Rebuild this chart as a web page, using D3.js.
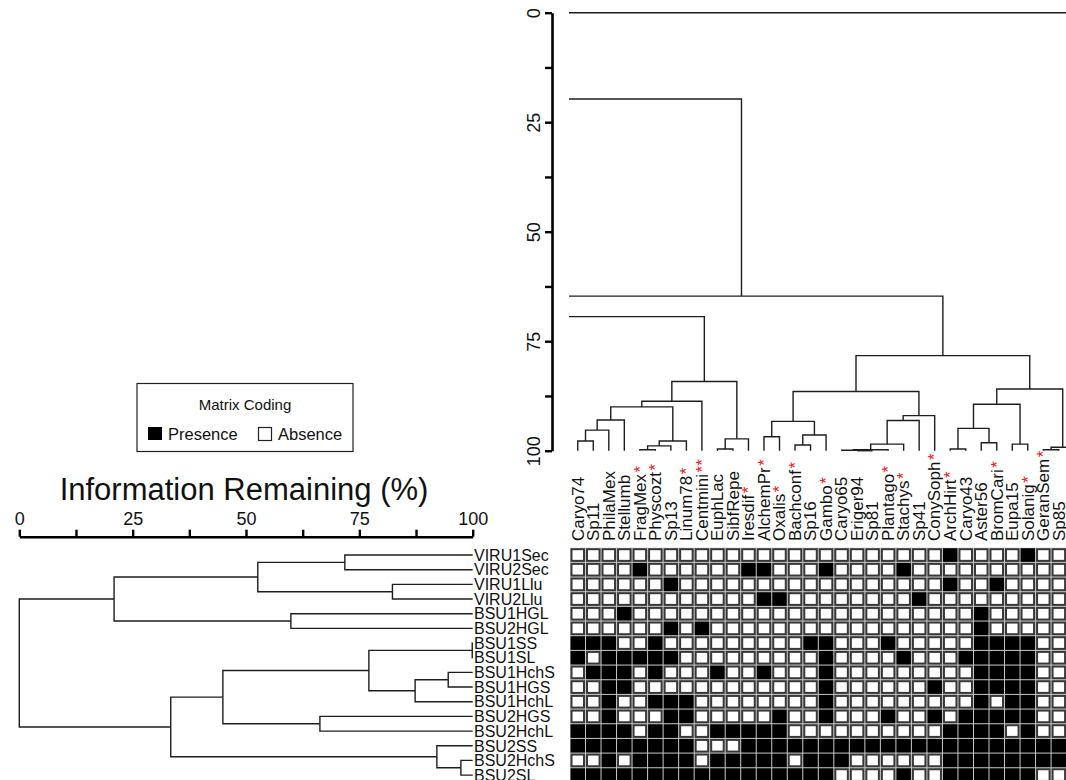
<!DOCTYPE html>
<html><head><meta charset="utf-8">
<script src="https://cdn.jsdelivr.net/npm/d3@7"></script>
<style>
body{margin:0;background:#fff}
svg{display:block}
text{font-family:"Liberation Sans",Arial,Helvetica,sans-serif;fill:#111}
</style>
</head><body>
<svg id="chart" width="1066" height="780"></svg>
<script>
// ---------------- DATA ----------------
const colLabels = ["Caryo74","Sp11","PhilaMex","Stellumb","FragMex","Physcozt","Sp13","Linum78","Centmini","EuphLac","SibfRepe","Iresdif","AlchemPr","Oxalis","Bachconf","Sp16","Gambo","Caryo65","Eriger94","Sp81","Plantago","Stachys","Sp41","ConySoph","ArchHirt","Caryo43","Aster56","BromCari","Eupa15","Solanig","GeranSem","Sp85"];
// number of red asterisks after each column label
const colStars = [0,0,0,0,1,1,0,1,2,0,0,1,1,1,1,0,1,0,0,0,1,1,0,1,1,0,0,1,0,1,1,0];
// a leaf of the column tree that lies beyond the right edge of the picture
const hiddenLeaves = ["(beyond edge)"];

const rowLabels = ["VIRU1Sec","VIRU2Sec","VIRU1Llu","VIRU2Llu","BSU1HGL","BSU2HGL","BSU1SS","BSU1SL","BSU1HchS","BSU1HGS","BSU1HchL","BSU2HGS","BSU2HchL","BSU2SS","BSU2HchS","BSU2SL"];

// presence (1) / absence (0), one string per row, one char per column
const matrixRows = [
  "00000000000000000000000010000100",
  "00001000000110001000010000000000",
  "00000010000000000000000010010000",
  "00000000000011000000001000000000",
  "00010000000000000000000000100000",
  "00000010100000000000000000100000",
  "11100100000000011000100000111100",
  "10111110000000001000010001111100",
  "01110100010010001000000000111100",
  "00110000000000001000000100111100",
  "00100111000000001000000000101100",
  "00100011000001001000100101111100",
  "11110110011111000000000011110100",
  "11111111000111111111111111111111",
  "00101111011111011100000011111111",
  "11111111111111111000010011111100"
];

// column dendrogram merges: [childA, childB, information remaining %]; "#k" = k-th merge
const topMerges = [
  ["Caryo74","Sp11",97.8],      // 0
  ["#0","PhilaMex",95.3],       // 1
  ["#1","Stellumb",93.0],       // 2
  ["FragMex","Physcozt",99.8],  // 3
  ["#3","Sp13",98.9],           // 4
  ["#4","Linum78",97.8],        // 5
  ["#2","#5",90.0],             // 6
  ["#6","Centmini",88.7],       // 7
  ["EuphLac","SibfRepe",99.6],  // 8
  ["#8","Iresdif",97.3],        // 9
  ["#7","#9",84.2],             // 10
  ["AlchemPr","Oxalis",96.8],   // 11
  ["Bachconf","Sp16",98.7],     // 12
  ["#12","Gambo",96.4],         // 13
  ["#11","#13",93.3],           // 14
  ["Eriger94","Sp81",100],      // 15
  ["Caryo65","#15",99.9],       // 16
  ["#16","Plantago",99.8],      // 17
  ["#17","Stachys",98.5],       // 18
  ["#18","Sp41",93.1],          // 19
  ["#19","ConySoph",92.0],      // 20
  ["#14","#20",86.5],           // 21
  ["ArchHirt","Caryo43",99.6],  // 22
  ["Aster56","BromCari",98.2],  // 23
  ["#22","#23",94.9],           // 24
  ["Eupa15","Solanig",98.5],    // 25
  ["#24","#25",89.4],           // 26
  ["GeranSem","Sp85",99.8],     // 27
  ["#27","(beyond edge)",99.2], // 28
  ["#26","#28",85.9],           // 29
  ["#21","#29",78.3]            // 30
];
// upper branches of the column tree (they run out to the left border)
const topStems = [
  {node:"#10", top:69.4},
  {node:"#30", top:64.7},
  {leafPos:10.55, bottom:64.7, top:19.7},
  {full:true, top:0}
];

// row dendrogram merges
const leftMerges = [
  ["VIRU1Sec","VIRU2Sec",71.8],  // 0
  ["VIRU1Llu","VIRU2Llu",82.3],  // 1
  ["#0","#1",52.6],              // 2
  ["BSU1HGL","BSU2HGL",59.9],    // 3
  ["#2","#3",20.9],              // 4
  ["BSU1SS","BSU1SL",99.9],      // 5
  ["BSU1HchS","BSU1HGS",94.6],   // 6
  ["#6","BSU1HchL",87.3],        // 7
  ["#5","#7",77.1],              // 8
  ["BSU2HGS","BSU2HchL",66.3],   // 9
  ["#8","#9",44.9],              // 10
  ["BSU2HchS","BSU2SL",97.4],    // 11
  ["BSU2SS","#11",92.1],         // 12
  ["#10","#12",33.4],            // 13
  ["#4","#13",0]                 // 14
];

const axisTicks = [0,12.5,25,37.5,50,62.5,75,87.5,100];
const axisLabels = [0,25,50,75,100];
const axisTitle = "Information Remaining (%)";
const legendTitle = "Matrix Coding";
const legendItems = [{label:"Presence", v:1},{label:"Absence", v:0}];

// ---------------- DRAW ----------------
const svg = d3.select("#chart");
svg.append("rect").attr("width",1066).attr("height",780).attr("fill","#fff");

const LINE = "#1e1e1e";
const colX = d3.scaleLinear().domain([-0.5, colLabels.length - 0.5]).range([570, 1066.6]);
const colW = colX(1) - colX(0);
const topY = d3.scaleLinear().domain([0,100]).range([12.7, 450.7]);
const rowBand = d3.scaleBand().domain(rowLabels).range([547.7, 547.7 + rowLabels.length*14.67]);
const rowPos = d3.scaleLinear().domain([-0.5, rowLabels.length - 0.5]).range(rowBand.range());
const rowY = i => rowPos(i);
const leftX = d3.scaleLinear().domain([0,100]).range([19.3, 472.7]);

function buildTree(merges, leafIndex) {
  const nodes = [];
  const get = k => k.startsWith("#") ? nodes[+k.slice(1)] : {pos: leafIndex(k), h: 100, leaf: true};
  merges.forEach(([a,b,h]) => {
    const A = get(a), B = get(b);
    nodes.push({A, B, h, pos: (A.pos + B.pos)/2});
  });
  return nodes;
}
const allTopLeaves = colLabels.concat(hiddenLeaves);
const topNodes = buildTree(topMerges, k => allTopLeaves.indexOf(k));
const leftNodes = buildTree(leftMerges, k => rowLabels.indexOf(k));

// ---- column dendrogram
const gTop = svg.append("g");
topNodes.forEach(n => {
  const p = d3.path();
  p.moveTo(colX(n.A.pos), topY(n.A.h));
  p.lineTo(colX(n.A.pos), topY(n.h));
  p.lineTo(colX(n.B.pos), topY(n.h));
  p.lineTo(colX(n.B.pos), topY(n.B.h));
  gTop.append("path").attr("d", p.toString()).attr("fill","none").attr("stroke",LINE).attr("stroke-width",1.4);
});
const leftEdge = colX(-0.5) - 1;
topStems.forEach(s => {
  const p = d3.path();
  if (s.full) {
    p.moveTo(leftEdge, topY(s.top)); p.lineTo(1070, topY(s.top));
  } else if (s.node) {
    const n = topNodes[+s.node.slice(1)];
    p.moveTo(colX(n.pos), topY(n.h)); p.lineTo(colX(n.pos), topY(s.top)); p.lineTo(leftEdge, topY(s.top));
  } else {
    p.moveTo(colX(s.leafPos), topY(s.bottom)); p.lineTo(colX(s.leafPos), topY(s.top)); p.lineTo(leftEdge, topY(s.top));
  }
  gTop.append("path").attr("d", p.toString()).attr("fill","none").attr("stroke",LINE).attr("stroke-width",1.4);
});

// top axis
const axT = svg.append("g").attr("transform","translate(552,0)")
  .call(d3.axisLeft(topY).tickValues(axisTicks).tickSize(7).tickSizeOuter(0)
    .tickFormat(d => axisLabels.includes(d) ? d : ""));
axT.select(".domain").attr("stroke","#000").attr("stroke-width",2.6);
axT.selectAll(".tick line").attr("stroke","#000").attr("stroke-width",2.4);
axT.selectAll(".tick text").attr("x",0).attr("dy",null).attr("text-anchor","middle")
  .attr("transform","translate(-12.5,0) rotate(-90)")
  .style("font-size","18px").style("font-family","'Liberation Sans',Arial,sans-serif").attr("fill","#111");

// column labels with red asterisks
const colText = svg.append("g").selectAll("text").data(colLabels).join("text")
  .attr("transform",(d,i)=>`translate(${colX(i)+5.8},541) rotate(-90)`)
  .attr("text-anchor","start").style("font-size","17px");
colText.append("tspan").text(d=>d);
colText.append("tspan").attr("dx",1.5).attr("fill","#ee1c1c").style("fill","#ee1c1c")
  .text((d,i)=>"*".repeat(colStars[i]));

// ---- matrix
svg.append("rect").attr("x",colX(-0.5)).attr("y",rowBand.range()[0])
  .attr("width",colW*colLabels.length).attr("height",rowBand.range()[1]-rowBand.range()[0])
  .attr("fill","#c9c9c9");
const cells = [];
matrixRows.forEach((row,r)=>row.split("").forEach((v,c)=>cells.push({r,c,v:+v})));
const bh = rowBand.bandwidth();
svg.append("g").selectAll("rect").data(cells).join("rect")
  .attr("x",d=> d.v ? colX(d.c-0.5)+0.5 : colX(d.c-0.5)+1.5)
  .attr("y",d=> d.v ? rowBand(rowLabels[d.r])+0.5 : rowBand(rowLabels[d.r])+1.5)
  .attr("width",d=> d.v ? colW-1 : colW-3)
  .attr("height",d=> d.v ? bh-1 : bh-3)
  .attr("fill",d=> d.v ? "#000" : "#fff")
  .attr("stroke",d=> d.v ? "none" : "#383838")
  .attr("stroke-width",2);

// ---- row dendrogram
const gLeft = svg.append("g");
leftNodes.forEach(n => {
  const p = d3.path();
  p.moveTo(leftX(n.A.h), rowY(n.A.pos));
  p.lineTo(leftX(n.h), rowY(n.A.pos));
  p.lineTo(leftX(n.h), rowY(n.B.pos));
  p.lineTo(leftX(n.B.h), rowY(n.B.pos));
  gLeft.append("path").attr("d", p.toString()).attr("fill","none").attr("stroke",LINE).attr("stroke-width",1.4);
});

// row labels
svg.append("g").selectAll("text").data(rowLabels).join("text")
  .attr("x",474).attr("y",(d,i)=>rowY(i)).attr("dy","0.36em")
  .style("font-size","16px").text(d=>d);

// left axis
const axL = svg.append("g").attr("transform","translate(0,536.7)")
  .call(d3.axisTop(leftX).tickValues(axisTicks).tickSize(7).tickSizeOuter(0).tickPadding(5)
    .tickFormat(d => axisLabels.includes(d) ? d : ""));
axL.select(".domain").attr("stroke","#000").attr("stroke-width",2.6);
axL.selectAll(".tick line").attr("stroke","#000").attr("stroke-width",2.4);
axL.selectAll(".tick text").style("font-size","18px")
  .style("font-family","'Liberation Sans',Arial,sans-serif").attr("fill","#111");

svg.append("text").attr("x",244).attr("y",500).attr("text-anchor","middle")
  .style("font-size","31px").text(axisTitle);

// ---- legend
const lg = svg.append("g").attr("transform","translate(137,383.5)");
lg.append("rect").attr("width",216).attr("height",68).attr("fill","#fff").attr("stroke","#222").attr("stroke-width",1.2);
lg.append("text").attr("x",108).attr("y",26).attr("text-anchor","middle").style("font-size","15px").text(legendTitle);
const li = lg.selectAll("g.item").data(legendItems).join("g").attr("class","item")
  .attr("transform",(d,i)=>`translate(${i===0?11:121},43.5)`);
li.append("rect").attr("x",d=>d.v?0:0.5).attr("y",d=>d.v?0:0.5)
  .attr("width",d=>d.v?14:13).attr("height",d=>d.v?13:13)
  .attr("fill",d=>d.v?"#000":"#fff").attr("stroke",d=>d.v?"none":"#222").attr("stroke-width",1.2);
li.append("text").attr("x",20).attr("y",12.5).style("font-size","16.5px").text(d=>d.label);
</script>
</body></html>
